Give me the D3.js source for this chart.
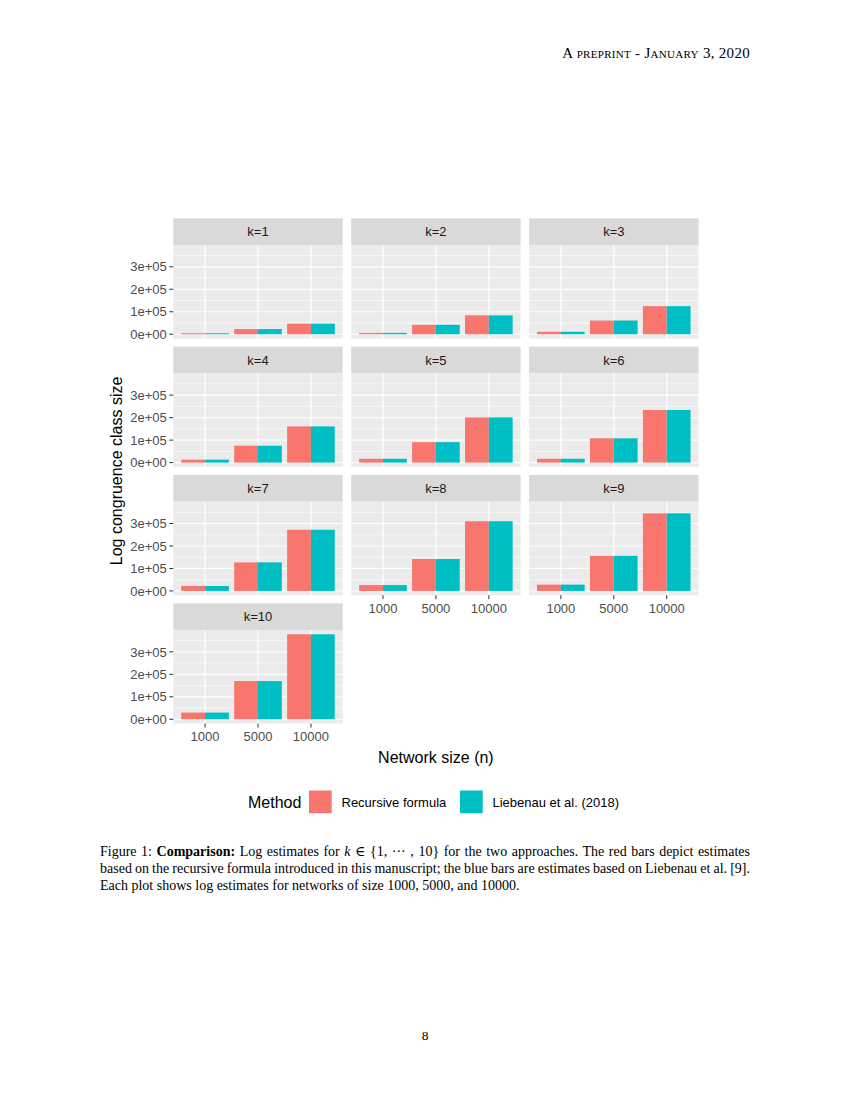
<!DOCTYPE html>
<html>
<head>
<meta charset="utf-8">
<script src="https://cdn.jsdelivr.net/npm/d3@7"></script>
<style>
  html, body { margin: 0; padding: 0; background: #fff; }
  #page { position: relative; width: 850px; height: 1100px; overflow: hidden; }
  svg { position: absolute; left: 0; top: 0; }
  .serif { font-family: "Liberation Serif", "DejaVu Serif", serif; color: #000; }
  #header { position: absolute; right: 100px; top: 45px; font-size: 15px; font-variant: small-caps; letter-spacing: 0.3px; }
  #caption { position: absolute; left: 100px; top: 843px; width: 650px; font-size: 14px; line-height: 17px; }
  #caption .j { text-align: justify; text-align-last: justify; white-space: nowrap; }
  #caption .tight { word-spacing: -1px; }
  #caption .l { text-align: left; white-space: nowrap; }
  #pagenum { position: absolute; left: 0; width: 850px; top: 1028px; text-align: center; font-size: 13.5px; }
</style>
</head>
<body>
<div id="page">
  <svg id="chart" width="850" height="1100"></svg>
  <div id="header" class="serif">A preprint - January 3, 2020</div>
  <div id="caption" class="serif">
    <div class="j">Figure 1: <b>Comparison:</b> Log estimates for <i>k</i> &isin; {1, &middot;&middot;&middot; , 10} for the two approaches. The red bars depict estimates</div>
    <div class="j tight">based on the recursive formula introduced in this manuscript; the blue bars are estimates based on Liebenau et al. [9].</div>
    <div class="l">Each plot shows log estimates for networks of size 1000, 5000, and 10000.</div>
  </div>
  <div id="pagenum" class="serif">8</div>
</div>
<script>
// ---------- data ----------
const categories = ["1000", "5000", "10000"];
const panelLabels = ["k=1","k=2","k=3","k=4","k=5","k=6","k=7","k=8","k=9","k=10"];
const methods = ["Recursive formula", "Liebenau et al. (2018)"];
const recursive = [
  [4500, 23000, 47000],
  [6000, 42000, 84000],
  [11000, 61000, 125000],
  [13000, 75000, 161000],
  [17000, 91000, 201000],
  [17000, 108000, 234000],
  [22000, 127000, 272000],
  [26000, 142000, 310000],
  [28000, 156000, 345000],
  [30000, 170000, 378000]
];
const liebenau = [
  [4500, 23000, 47000],
  [6000, 42000, 84000],
  [11000, 61000, 125000],
  [13000, 75000, 161000],
  [17000, 91000, 201000],
  [17000, 108000, 234000],
  [22000, 127000, 272000],
  [26000, 142000, 310000],
  [28000, 156000, 345000],
  [30000, 170000, 378000]
];
const yTicks = [0, 100000, 200000, 300000];
const yTickLabels = ["0e+00", "1e+05", "2e+05", "3e+05"];
const yMinor = [50000, 150000, 250000, 350000];
const colors = ["#F8766D", "#00BFC4"];

// ---------- layout ----------
const svg = d3.select("#chart");
const font = "'Liberation Sans', Arial, sans-serif";
const ncol = 3;
const panelW = 169.4, stripH = 26.7, plotH = 93.5;
const colX0 = 173.3, colStep = 177.9;
const rowY0 = 218.3, rowStep = 128.35;

const allVals = recursive.flat().concat(liebenau.flat());
const maxV = d3.max(allVals);
const y = d3.scaleLinear()
  .domain([-0.05 * maxV, 1.05 * maxV])
  .range([plotH, 0]);
const x = d3.scalePoint().domain(categories).range([0, panelW]).padding(0.6);
const xSub = d3.scaleBand().domain(methods)
  .range([-0.45 * x.step(), 0.45 * x.step()]).padding(0);

panelLabels.forEach((lab, i) => {
  const r = Math.floor(i / ncol), c = i % ncol;
  const px = colX0 + c * colStep;
  const py = rowY0 + r * rowStep;
  const g = svg.append("g").attr("transform", `translate(${px},${py})`);
  // strip
  g.append("rect").attr("x", 0).attr("y", 0).attr("width", panelW).attr("height", stripH).attr("fill", "#D9D9D9");
  g.append("text").attr("x", panelW / 2).attr("y", stripH / 2).attr("dy", "0.36em")
    .attr("text-anchor", "middle").attr("font-family", font).attr("font-size", 13).attr("fill", "#1A1A1A").text(lab);
  // panel
  const p = g.append("g").attr("transform", `translate(0,${stripH})`);
  p.append("rect").attr("width", panelW).attr("height", plotH).attr("fill", "#EBEBEB");
  p.selectAll(".minor").data(yMinor).join("line")
    .attr("x1", 0).attr("x2", panelW).attr("y1", d => y(d)).attr("y2", d => y(d))
    .attr("stroke", "#fff").attr("stroke-width", 0.6);
  p.selectAll(".majy").data(yTicks).join("line")
    .attr("x1", 0).attr("x2", panelW).attr("y1", d => y(d)).attr("y2", d => y(d))
    .attr("stroke", "#fff").attr("stroke-width", 1.2);
  p.selectAll(".majx").data(categories).join("line")
    .attr("y1", 0).attr("y2", plotH).attr("x1", d => x(d)).attr("x2", d => x(d))
    .attr("stroke", "#fff").attr("stroke-width", 1.2);
  // bars
  const rows = [];
  categories.forEach((cat, j) => {
    rows.push({cat, m: methods[0], v: recursive[i][j], col: colors[0]});
    rows.push({cat, m: methods[1], v: liebenau[i][j], col: colors[1]});
  });
  p.selectAll(".bar").data(rows).join("rect")
    .attr("x", d => x(d.cat) + xSub(d.m))
    .attr("width", xSub.bandwidth())
    .attr("y", d => y(d.v))
    .attr("height", d => y(0) - y(d.v))
    .attr("fill", d => d.col);

  // y axis on first column
  if (c === 0) {
    const ya = p.append("g");
    yTicks.forEach((t, k) => {
      ya.append("line").attr("x1", -4).attr("x2", 0).attr("y1", y(t)).attr("y2", y(t))
        .attr("stroke", "#333").attr("stroke-width", 1);
      ya.append("text").attr("x", -6.5).attr("y", y(t)).attr("dy", "0.36em")
        .attr("text-anchor", "end").attr("font-family", font).attr("font-size", 13)
        .attr("fill", "#4D4D4D").text(yTickLabels[k]);
    });
  }
  // x axis where nothing below
  const below = i + ncol;
  if (below >= panelLabels.length) {
    const xa = p.append("g").attr("transform", `translate(0,${plotH})`);
    categories.forEach(cat => {
      xa.append("line").attr("x1", x(cat)).attr("x2", x(cat)).attr("y1", 0).attr("y2", 4)
        .attr("stroke", "#333").attr("stroke-width", 1);
      xa.append("text").attr("x", x(cat)).attr("y", 17.5)
        .attr("text-anchor", "middle").attr("font-family", font).attr("font-size", 13)
        .attr("fill", "#4D4D4D").text(cat);
    });
  }
});

// axis titles
const topY = rowY0, botY = rowY0 + 3 * rowStep + stripH + plotH;
svg.append("text").attr("transform", `translate(122,${(topY + botY) / 2}) rotate(-90)`)
  .attr("text-anchor", "middle").attr("font-family", font).attr("font-size", 16)
  .attr("fill", "#000").text("Log congruence class size");
svg.append("text").attr("x", colX0 + (2 * colStep + panelW) / 2).attr("y", 763)
  .attr("text-anchor", "middle").attr("font-family", font).attr("font-size", 16)
  .attr("fill", "#000").text("Network size (n)");

// legend
const leg = svg.append("g");
leg.append("text").attr("x", 248).attr("y", 808).attr("font-family", font).attr("font-size", 16)
  .attr("fill", "#000").text("Method");
const legItems = [
  {m: methods[0], col: colors[0], kx: 309},
  {m: methods[1], col: colors[1], kx: 460}
];
legItems.forEach(d => {
  leg.append("rect").attr("x", d.kx).attr("y", 790.5).attr("width", 22.7).attr("height", 22.7).attr("fill", d.col);
  leg.append("text").attr("x", d.kx + 32.5).attr("y", 802).attr("dy", "0.36em")
    .attr("font-family", font).attr("font-size", 13).attr("fill", "#000").text(d.m);
});
</script>
</body>
</html>
